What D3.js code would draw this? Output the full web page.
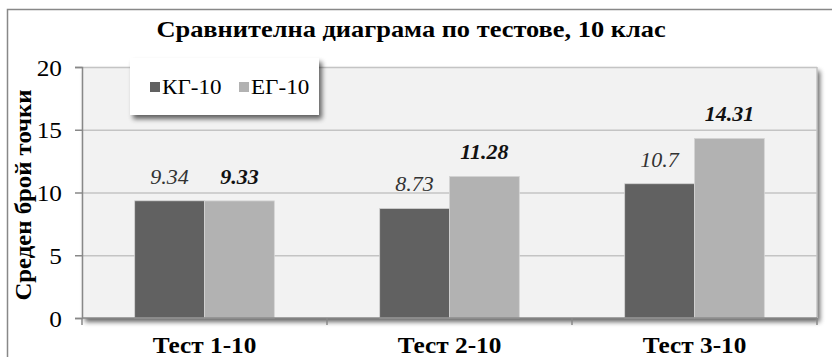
<!DOCTYPE html>
<html>
<head>
<meta charset="utf-8">
<script src="https://cdn.jsdelivr.net/npm/d3@7"></script>
<style>
  body { margin: 0; background: #fff; }
  svg { display: block; }
</style>
</head>
<body>
<svg id="chart" width="832" height="357"></svg>
<script>
const categories = ['Тест 1-10', 'Тест 2-10', 'Тест 3-10'];
const seriesNames = ['КГ-10', 'ЕГ-10'];
const kg10 = [9.34, 8.73, 10.7];
const eg10 = [9.33, 11.28, 14.31];
const yTicks = [0, 5, 10, 15, 20];
const colors = ['#616161', '#b2b2b2'];

const title = 'Сравнителна диаграма по тестове, 10 клас';
const yTitle = 'Среден брой точки';

const font = 'Liberation Serif';
const stretch = 1.1; // the original text is a bit wider than Liberation Serif
const plot = { left: 82, right: 817, top: 67, bottom: 318 };

const svg = d3.select('#chart');

// put a text at (x,y), widened along its reading direction
function place(sel, x, y, rot) {
  return sel.attr('x', 0).attr('y', 0)
    .attr('transform', `translate(${x},${y})${rot ? ` rotate(${rot})` : ''} scale(${stretch},1)`);
}

const defs = svg.append('defs');
const shadow = defs.append('filter').attr('id', 'shadow')
  .attr('x', '-10%').attr('y', '-10%').attr('width', '130%').attr('height', '140%');
shadow.append('feGaussianBlur').attr('in', 'SourceAlpha').attr('stdDeviation', 2.5);
shadow.append('feOffset').attr('dx', 3).attr('dy', 4).attr('result', 'blur');
shadow.append('feComponentTransfer').append('feFuncA').attr('type', 'linear').attr('slope', 0.6);
const merge = shadow.append('feMerge');
merge.append('feMergeNode');
merge.append('feMergeNode').attr('in', 'SourceGraphic');

// outer frame
svg.append('rect')
  .attr('x', 7.5).attr('y', 9.5)
  .attr('width', 840).attr('height', 370)
  .attr('fill', '#fff')
  .attr('stroke', '#888').attr('stroke-width', 1.5);

svg.append('text')
  .call(place, 411, 37)
  .attr('text-anchor', 'middle')
  .attr('font-family', font)
  .attr('font-size', 24).attr('font-weight', 'bold')
  .attr('fill', '#000')
  .text(title);

const x = d3.scaleBand().domain(categories).range([plot.left, plot.right]).paddingInner(0.43).paddingOuter(0.215);
const xs = d3.scaleBand().domain(seriesNames).range([0, x.bandwidth()]);
const y = d3.scaleLinear().domain([0, 20]).range([plot.bottom, plot.top]);

// plot area
svg.append('rect')
  .attr('x', plot.left).attr('y', plot.top)
  .attr('width', plot.right - plot.left).attr('height', plot.bottom - plot.top)
  .attr('fill', '#f2f2f2')
  .attr('filter', 'url(#shadow)');

svg.append('g')
  .selectAll('line')
  .data(yTicks.filter(d => d > 0))
  .join('line')
  .attr('x1', plot.left).attr('x2', plot.right)
  .attr('y1', d => y(d) + 0.5).attr('y2', d => y(d) + 0.5)
  .attr('stroke', '#c4c4c4').attr('stroke-width', 1.5);

svg.append('line')
  .attr('x1', plot.right).attr('x2', plot.right)
  .attr('y1', plot.top).attr('y2', plot.bottom)
  .attr('stroke', '#c4c4c4').attr('stroke-width', 1.5);

const rows = categories.map((c, i) => ({ cat: c, values: [kg10[i], eg10[i]] }));

const groups = svg.append('g')
  .selectAll('g')
  .data(rows)
  .join('g')
  .attr('transform', d => `translate(${x(d.cat)},0)`);

groups.selectAll('rect')
  .data(d => d.values.map((v, j) => ({ name: seriesNames[j], v: v, j: j })))
  .join('rect')
  .attr('x', d => xs(d.name))
  .attr('y', d => y(d.v))
  .attr('width', xs.bandwidth())
  .attr('height', d => y(0) - y(d.v))
  .attr('fill', d => colors[d.j])
  .attr('stroke', '#d4d4d4').attr('stroke-width', 0.8);

groups.selectAll('text')
  .data(d => d.values.map((v, j) => ({ name: seriesNames[j], v: v, j: j })))
  .join('text')
  .each(function (d) {
    place(d3.select(this), xs(d.name) + xs.bandwidth() / 2, y(d.v) - 17);
  })
  .attr('text-anchor', 'middle')
  .attr('font-family', font)
  .attr('font-size', 20)
  .attr('font-style', 'italic')
  .attr('font-weight', d => d.j === 1 ? 'bold' : 'normal')
  .attr('fill', d => d.j === 1 ? '#111' : '#333')
  .text(d => d.v);

// axes
const yAxis = svg.append('g')
  .attr('transform', `translate(${plot.left},0)`)
  .call(d3.axisLeft(y).tickValues(yTicks).tickSize(7));
yAxis.select('.domain').attr('stroke', '#888').attr('stroke-width', 1.5);
yAxis.selectAll('.tick line').attr('stroke', '#888').attr('stroke-width', 1.5);
yAxis.selectAll('.tick text')
  .call(place, -20, 8)
  .attr('dy', null)
  .attr('font-size', 23).attr('font-family', font).attr('fill', '#000');

const xAxisG = svg.append('g').attr('transform', `translate(0,${plot.bottom})`);
xAxisG.append('line')
  .attr('x1', plot.left).attr('x2', plot.right)
  .attr('stroke', '#888').attr('stroke-width', 1.5);
const step = (plot.right - plot.left) / categories.length;
xAxisG.selectAll('line.tk')
  .data(d3.range(categories.length + 1))
  .join('line').attr('class', 'tk')
  .attr('x1', i => plot.left + i * step).attr('x2', i => plot.left + i * step)
  .attr('y1', 0).attr('y2', 7)
  .attr('stroke', '#888').attr('stroke-width', 1.5);
xAxisG.selectAll('text')
  .data(categories)
  .join('text')
  .each(function (d) {
    place(d3.select(this), x(d) + x.bandwidth() / 2, 35);
  })
  .attr('text-anchor', 'middle')
  .attr('font-family', font)
  .attr('font-size', 23).attr('font-weight', 'bold')
  .text(d => d);

svg.append('text')
  .call(place, 31, 195, -90)
  .attr('text-anchor', 'middle')
  .attr('font-family', font)
  .attr('font-size', 22.5).attr('font-weight', 'bold')
  .text(yTitle);

// legend
const legend = svg.append('g').attr('transform', 'translate(130,58)');
legend.append('rect')
  .attr('width', 189).attr('height', 57)
  .attr('fill', '#fff')
  .attr('filter', 'url(#shadow)');
const li = legend.selectAll('g')
  .data(seriesNames)
  .join('g')
  .attr('transform', (d, i) => `translate(${20 + i * 89},0)`);
li.append('rect')
  .attr('y', 24).attr('width', 10).attr('height', 10)
  .attr('fill', (d, i) => colors[i]);
li.append('text')
  .call(place, 12, 36)
  .attr('font-family', font)
  .attr('font-size', 21)
  .text(d => d);
</script>
</body>
</html>
